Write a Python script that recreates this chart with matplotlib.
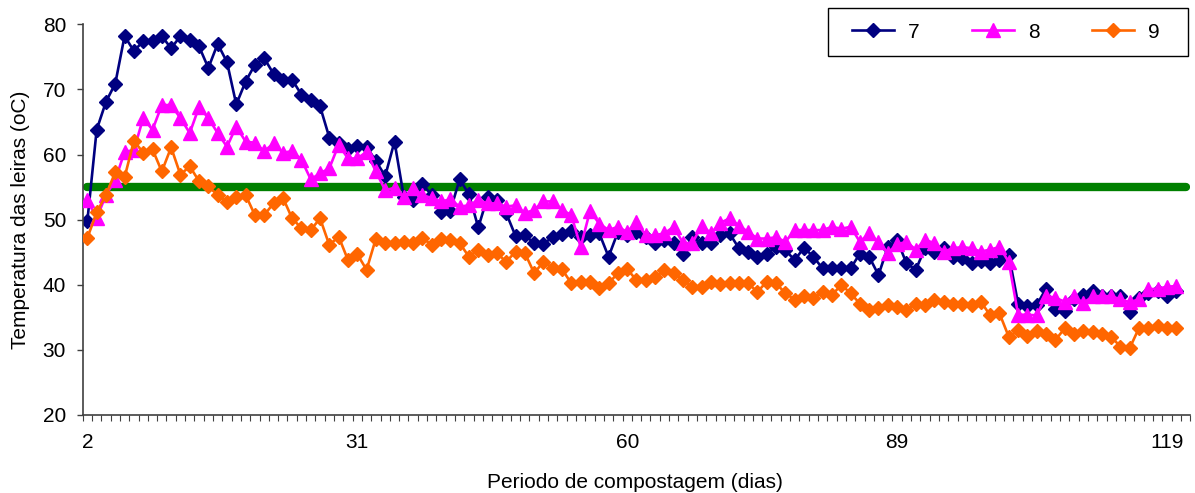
import numpy as np
import matplotlib
matplotlib.use("Agg")
import matplotlib.pyplot as plt
from matplotlib.patches import Rectangle

plt.rcParams["font.family"] = ["Liberation Sans", "DejaVu Sans"]

# temperaturas medias diarias por leira (oC)
leira_7 = [
    49.8, 63.8, 68.1, 70.9, 78.2, 75.9, 77.4, 77.4, 78.2, 76.3,
    78.2, 77.6, 76.6, 73.3, 77.0, 74.2, 67.7, 71.2, 73.8, 74.8,
    72.4, 71.5, 71.5, 69.2, 68.4, 67.4, 62.6, 61.7, 60.8, 61.3,
    61.2, 59.0, 56.7, 62.0, 53.5, 53.0, 55.4, 53.8, 51.2, 51.4,
    56.2, 53.9, 48.8, 53.5, 53.0, 51.0, 47.5, 47.6, 46.4, 46.3,
    47.3, 47.8, 48.3, 47.3, 47.6, 47.9, 44.3, 48.1, 47.6, 48.1,
    47.3, 46.4, 46.9, 46.4, 44.8, 47.3, 46.4, 46.4, 47.6, 47.9,
    45.6, 45.1, 44.3, 44.8, 45.8, 45.3, 43.8, 45.7, 44.3, 42.5,
    42.5, 42.5, 42.5, 44.8, 44.3, 41.5, 45.8, 46.9, 43.3, 42.3,
    45.6, 45.1, 45.6, 44.3, 44.1, 43.3, 43.6, 43.3, 43.8, 44.6,
    37.1, 36.7, 36.9, 39.4, 36.3, 35.9, 37.8, 38.5, 39.1, 38.2,
    38.2, 38.2, 35.8, 38.0, 38.8, 39.0, 38.3, 39.0,
]
leira_8 = [
    53.0, 50.2, 53.8, 56.1, 60.4, 60.7, 65.6, 63.8, 67.6, 67.6,
    65.6, 63.3, 67.3, 65.6, 63.3, 61.2, 64.3, 62.0, 61.8, 60.5,
    61.7, 60.3, 60.5, 59.2, 56.2, 57.1, 57.9, 61.5, 59.4, 59.4,
    60.4, 57.4, 54.5, 54.9, 53.5, 54.8, 53.8, 53.3, 52.8, 53.1,
    52.0, 52.2, 53.0, 52.5, 52.5, 52.0, 52.2, 51.0, 51.5, 52.8,
    52.8, 51.5, 50.7, 45.8, 51.3, 49.4, 48.4, 48.9, 48.1, 49.6,
    47.6, 47.6, 47.9, 48.9, 46.4, 46.4, 49.1, 47.9, 49.5, 50.2,
    49.1, 48.1, 47.1, 47.1, 47.3, 46.6, 48.4, 48.4, 48.4, 48.4,
    48.9, 48.6, 48.9, 46.6, 47.9, 46.5, 44.9, 46.2, 46.6, 45.4,
    46.9, 46.4, 45.1, 45.6, 45.8, 45.6, 45.1, 45.4, 45.8, 43.5,
    35.4, 35.4, 35.3, 38.3, 38.0, 37.4, 38.2, 37.2, 38.2, 38.3,
    38.2, 37.8, 37.3, 37.8, 39.3, 39.4, 39.7, 39.8,
]
leira_9 = [
    47.2, 51.1, 53.8, 57.3, 56.5, 62.1, 60.3, 60.8, 57.4, 61.1,
    56.9, 58.2, 55.9, 55.1, 53.8, 52.7, 53.5, 53.8, 50.7, 50.7,
    52.5, 53.4, 50.2, 48.7, 48.4, 50.2, 46.1, 47.4, 43.8, 44.7,
    42.3, 47.1, 46.4, 46.4, 46.6, 46.4, 47.2, 46.1, 47.1, 46.9,
    46.4, 44.3, 45.4, 44.6, 44.9, 43.5, 45.1, 44.9, 41.8, 43.5,
    42.6, 42.4, 40.2, 40.5, 40.5, 39.5, 40.2, 41.8, 42.4, 40.7,
    40.7, 41.2, 42.2, 41.8, 40.7, 39.7, 39.7, 40.5, 40.1, 40.2,
    40.2, 40.2, 38.9, 40.5, 40.2, 38.7, 37.7, 38.2, 37.9, 38.9,
    38.4, 40.0, 38.7, 37.1, 36.1, 36.4, 36.9, 36.6, 36.1, 37.1,
    36.9, 37.7, 37.4, 37.1, 37.1, 36.9, 37.4, 35.3, 35.6, 32.0,
    33.0, 32.2, 32.9, 32.5, 31.5, 33.3, 32.4, 32.9, 32.8, 32.5,
    32.0, 30.5, 30.3, 33.4, 33.3, 33.7, 33.4, 33.3,
]
# limite de 55 oC (higienizacao)
limite = [55.0] * 119

tick_pos = [0, 29, 58, 87, 116]
tick_labels = ["2", "31", "60", "89", "119"]

fig = plt.figure(figsize=(11.95, 4.93), dpi=100)
ax = fig.add_axes([82.7 / 1195, 1 - 415 / 493, 1107.6 / 1195, (415 - 24.3) / 493])

x_lim = np.arange(len(limite))
ax.plot(x_lim, limite, color="#008000", lw=6, solid_capstyle="round", zorder=1)

x = np.arange(len(leira_7))
l7, = ax.plot(x, leira_7, color="#000080", lw=1.9, marker="D", ms=6.8, zorder=2)
l8, = ax.plot(x, leira_8, color="#FF00FF", lw=1.9, marker="^", ms=10, zorder=3)
l9, = ax.plot(x, leira_9, color="#FF6600", lw=1.9, marker="D", ms=6.8, zorder=4)

ax.set_xlim(-0.5, 118.5)
ax.set_ylim(20, 80)
ax.set_yticks(np.arange(20, 81, 10))
ax.set_xticks(tick_pos)
ax.set_xticklabels(tick_labels)
ax.set_xticks(np.arange(-0.5, 119, 1), minor=True)

for s in ["top", "right"]:
    ax.spines[s].set_visible(False)
for s in ["left", "bottom"]:
    ax.spines[s].set_color("#404040")
    ax.spines[s].set_linewidth(1.2)

ax.tick_params(axis="y", direction="out", length=4, width=1, color="#404040",
               labelsize=15, pad=8)
ax.tick_params(axis="x", which="major", length=0, labelsize=15, pad=13)
ax.tick_params(axis="x", which="minor", direction="out", length=4, width=0.8,
               color="#404040")

ax.set_ylabel("Temperatura das leiras (oC)", fontsize=15)
ax.set_xlabel("Periodo de compostagem (dias)", fontsize=15)
ax.yaxis.label.set_va("center")
ax.xaxis.label.set_va("center")
ax.yaxis.set_label_coords(-0.0566, 0.5)
ax.xaxis.set_label_coords(0.499, -0.1715)

# caixa da legenda desenhada a parte
fig.patches.append(Rectangle((828 / 1195, 1 - 56 / 493), 360 / 1195, 48 / 493,
                             transform=fig.transFigure, facecolor="white",
                             edgecolor="black", lw=1.0, zorder=5))
fig.legend([l7, l8, l9], ["7", "8", "9"], loc="center left",
           bbox_to_anchor=(852 / 1195, 1 - 32 / 493), ncol=3, fontsize=15,
           frameon=False, borderpad=0, borderaxespad=0, handlelength=2.0,
           handletextpad=0.7, columnspacing=2.5)

fig.savefig("out.png", dpi=100)
